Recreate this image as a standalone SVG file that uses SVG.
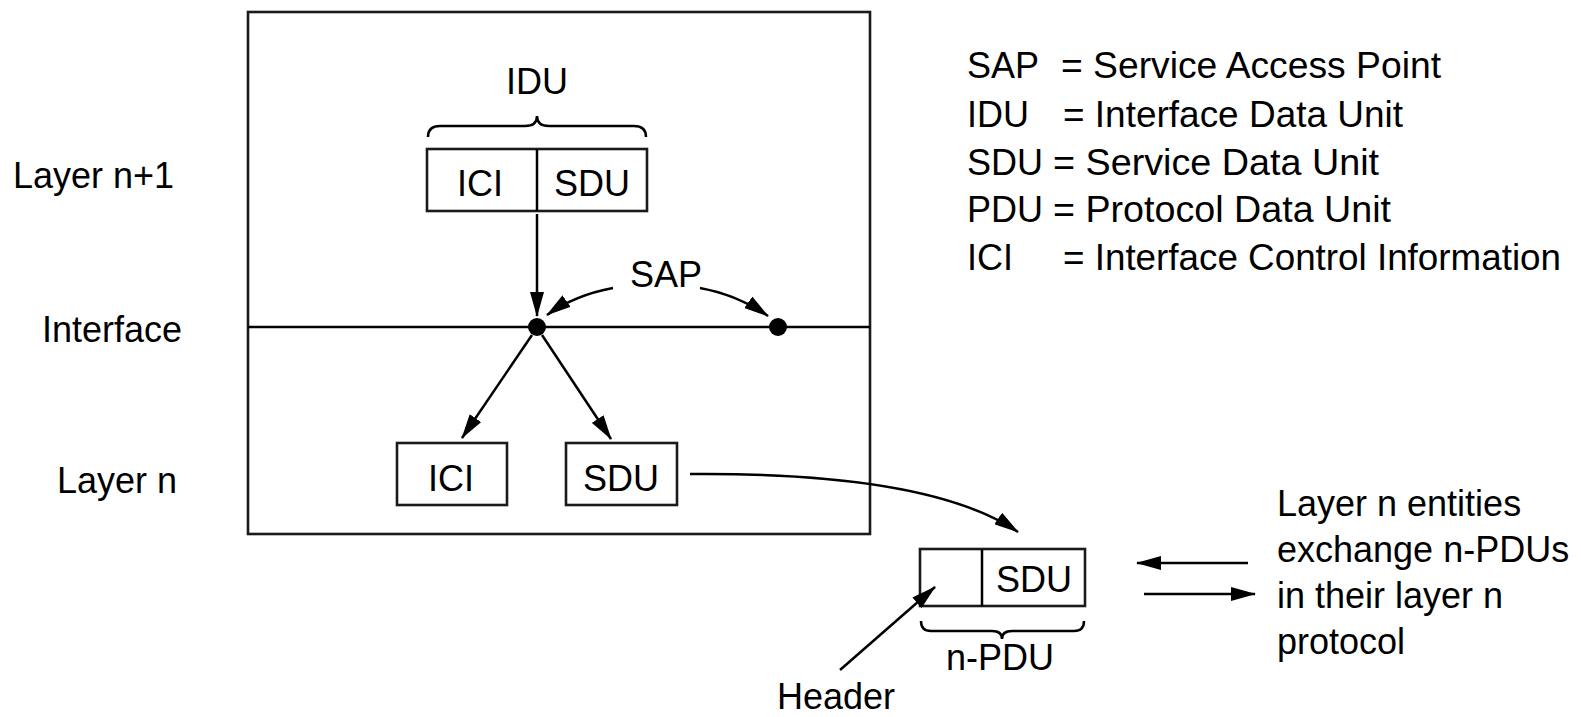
<svg xmlns="http://www.w3.org/2000/svg" width="1581" height="717" viewBox="0 0 1581 717">
<style>
text{font-family:"Liberation Sans",Arial,Helvetica,sans-serif;font-size:36px;fill:#000}
.c{text-anchor:middle}
.box{fill:none;stroke:#1a1a1a;stroke-width:2.6}
.ln{fill:none;stroke:#000;stroke-width:2.5}
.arr{fill:none;stroke:#000;stroke-width:2.5;marker-end:url(#ah)}
</style>
<defs>
<marker id="ah" viewBox="0 0 25 14" refX="24" refY="7" markerWidth="25" markerHeight="14" markerUnits="userSpaceOnUse" orient="auto">
<path d="M0,0 L25,7 L0,14 z" fill="#000"/>
</marker>
</defs>
<rect width="1581" height="717" fill="#fff"/>

<g id="layer-labels">
<text x="13" y="188">Layer n+1</text>
<text x="42" y="342">Interface</text>
<text x="57" y="493">Layer n</text>
</g>

<g id="outer-box">
<rect class="box" x="248" y="12" width="622" height="522"/>
<line class="ln" x1="248" y1="327" x2="870" y2="327"/>
</g>

<g id="idu">
<text class="c" x="537" y="94">IDU</text>
<path class="ln" d="M428 137 Q428 126 440 126 L525 126 Q537 126 537 116 Q537 126 549 126 L634 126 Q646 126 646 137"/>
</g>

<g id="idu-box">
<rect class="box" x="427" y="149" width="220" height="62"/>
<line class="ln" x1="537" y1="149" x2="537" y2="211"/>
<text class="c" x="480" y="196">ICI</text>
<text class="c" x="592" y="196">SDU</text>
</g>

<g id="sap">
<text class="c" x="666" y="287">SAP</text>
<circle cx="537" cy="327" r="9" fill="#000"/>
<circle cx="778" cy="327" r="9" fill="#000"/>
</g>

<g id="ici-n">
<rect class="box" x="397" y="443" width="110" height="62"/>
<text class="c" x="451" y="491">ICI</text>
</g>

<g id="sdu-n">
<rect class="box" x="566" y="443" width="111" height="62"/>
<text class="c" x="621" y="491">SDU</text>
</g>

<g id="npdu">
<rect class="box" x="920" y="549" width="165" height="57"/>
<line class="ln" x1="982" y1="549" x2="982" y2="606"/>
<text class="c" x="1034" y="592">SDU</text>
<path class="ln" d="M921 621 Q921 631 931 631 L992 631 Q1002 631 1002 639 Q1002 631 1012 631 L1074 631 Q1084 631 1084 621"/>
<text class="c" x="1000" y="670">n-PDU</text>
</g>

<g id="header-label">
<text class="c" x="836" y="709">Header</text>
</g>

<g id="exchange-label">
<text x="1277" y="516">Layer n entities</text>
<text x="1277" y="562">exchange n-PDUs</text>
<text x="1277" y="608">in their layer n</text>
<text x="1277" y="654">protocol</text>
</g>

<g id="legend">
<text x="967" y="78">SAP</text>
<text x="1061" y="78" textLength="380" lengthAdjust="spacingAndGlyphs">= Service Access Point</text>
<text x="967" y="127">IDU</text>
<text x="1063" y="127" textLength="340" lengthAdjust="spacingAndGlyphs">= Interface Data Unit</text>
<text x="967" y="175">SDU</text>
<text x="1053" y="175" textLength="326" lengthAdjust="spacingAndGlyphs">= Service Data Unit</text>
<text x="967" y="222">PDU</text>
<text x="1053" y="222" textLength="338" lengthAdjust="spacingAndGlyphs">= Protocol Data Unit</text>
<text x="967" y="270">ICI</text>
<text x="1063" y="270" textLength="498" lengthAdjust="spacingAndGlyphs">= Interface Control Information</text>
</g>

<g id="connectors">
<line class="arr" x1="537" y1="214" x2="537" y2="316"/>
<path class="arr" d="M613 288 Q575 295 547 315"/>
<path class="arr" d="M700 288 Q738 295 768 316"/>
<line class="arr" x1="532" y1="335" x2="462" y2="438"/>
<line class="arr" x1="542" y1="335" x2="611" y2="439"/>
<path class="arr" d="M690 474 Q930 472 1018 532"/>
<line class="arr" x1="840" y1="670" x2="935" y2="587"/>
<line class="arr" x1="1248" y1="563" x2="1137" y2="563"/>
<line class="arr" x1="1144" y1="594" x2="1255" y2="594"/>
</g>
</svg>
